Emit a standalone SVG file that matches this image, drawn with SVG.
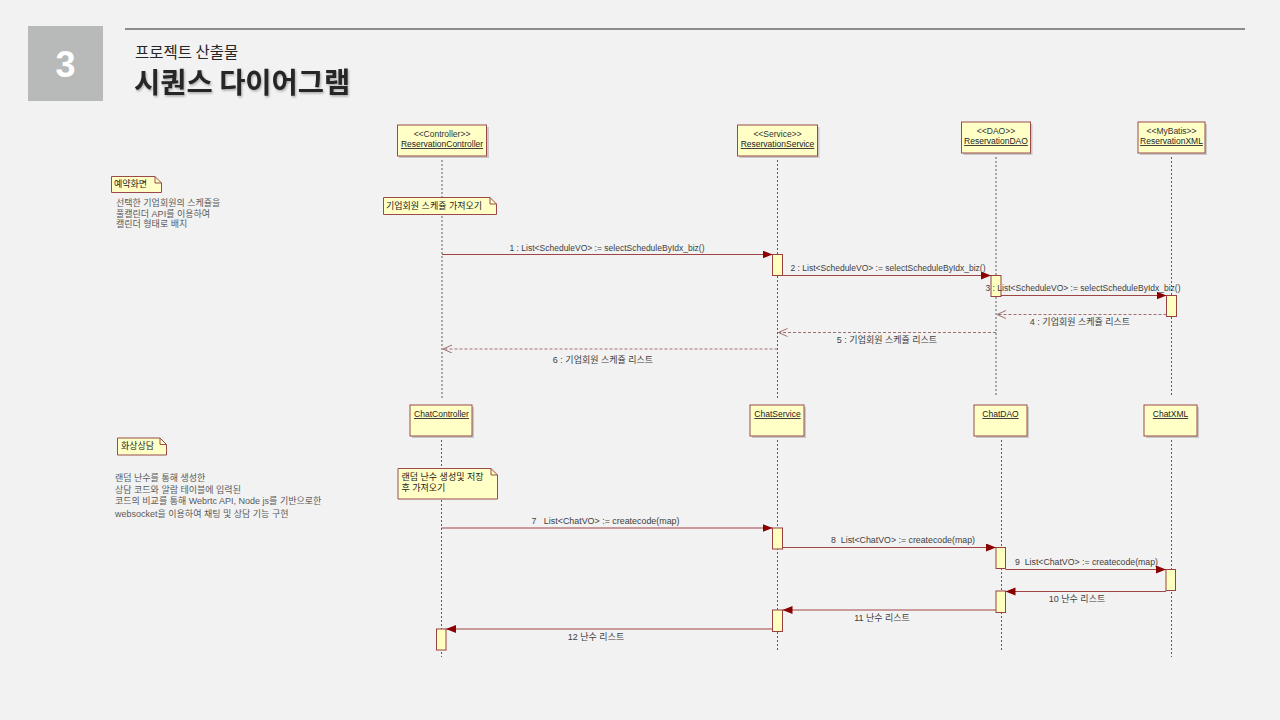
<svg xmlns="http://www.w3.org/2000/svg" width="1280" height="720" viewBox="0 0 1280 720">
<style>
  .bg{fill:#f2f2f2}
  .actor{fill:#ffffc6;stroke:#9a4a4a;stroke-width:1}
  .shadow{fill:#c9c9c9}
  .act{fill:#ffffc0;stroke:#9a4040;stroke-width:1}
  .life{stroke:#5a5a5a;stroke-width:1;stroke-dasharray:2 2;fill:none}
  .msg{stroke:#a04545;stroke-width:1;fill:none}
  .ret{stroke:#a07070;stroke-width:1;stroke-dasharray:3 2;fill:none}
  .note{fill:#ffffc6;stroke:#9a4a4a;stroke-width:1}
  .fold{fill:none;stroke:#9a4a4a;stroke-width:1}
  .t{font-family:"Liberation Sans","Noto Sans CJK KR",sans-serif;font-size:8.5px;fill:#333}
  .nt{font-family:"Liberation Sans","Noto Sans CJK KR",sans-serif;font-size:9px;fill:#222}
  .tn{font-family:"Liberation Sans","Noto Sans CJK KR",sans-serif;font-size:8.5px;fill:#222;text-decoration:underline}
  .ml{font-family:"Liberation Sans","Noto Sans CJK KR",sans-serif;font-size:8.5px;fill:#404040}
  .kl{font-family:"Liberation Sans","Noto Sans CJK KR",sans-serif;font-size:9px;fill:#404040}
  .desc{font-family:"Liberation Sans","Noto Sans CJK KR",sans-serif;font-size:9px;fill:#5a5a5a}
</style>
<defs>
  <marker id="fa" markerUnits="userSpaceOnUse" markerWidth="11" markerHeight="9" refX="10" refY="4" orient="auto">
    <path d="M0,0 L10,4 L0,8 Z" fill="#8b0000"/>
  </marker>
  <marker id="oa" markerUnits="userSpaceOnUse" markerWidth="11" markerHeight="9" refX="9.5" refY="4" orient="auto">
    <path d="M0,0 L9,4 L0,8" fill="none" stroke="#a07070" stroke-width="1"/>
  </marker>
  <filter id="ds" x="-5%" y="-20%" width="110%" height="140%">
    <feDropShadow dx="1" dy="1.5" stdDeviation="0.8" flood-color="#000" flood-opacity="0.3"/>
  </filter>
</defs>
<rect class="bg" x="0" y="0" width="1280" height="720"/>

<g id="header">
  <rect x="28" y="26" width="75" height="75" fill="#b8bab9"/>
  <text x="65.5" y="77" text-anchor="middle" font-family="Liberation Sans, Arial, sans-serif" font-weight="bold" font-size="36" fill="#ffffff">3</text>
  <line x1="125" y1="29" x2="1245" y2="29" stroke="#8c8c8c" stroke-width="2"/>
  <text x="135" y="58" font-family="'Noto Sans CJK KR', sans-serif" font-size="15.5" fill="#262626">프로젝트 산출물</text>
  <text x="134" y="93" font-family="'Noto Sans CJK KR', sans-serif" font-size="28.5" font-weight="bold" fill="#262626" filter="url(#ds)">시퀀스 다이어그램</text>
</g>

<!-- Section 1 lifelines -->
<g id="reservationController">
  <line class="life" x1="442" y1="156" x2="442" y2="398"/>
  <rect class="shadow" x="399" y="127" width="90" height="31"/>
  <rect class="actor" x="397.5" y="125" width="89" height="31"/>
  <text class="t" x="442" y="137" text-anchor="middle">&lt;&lt;Controller&gt;&gt;</text>
  <text class="tn" x="442" y="147" text-anchor="middle">ReservationController</text>
</g>
<g id="reservationService">
  <line class="life" x1="777.5" y1="156" x2="777.5" y2="398"/>
  <rect class="shadow" x="739.5" y="127" width="80" height="31"/>
  <rect class="actor" x="737.5" y="125" width="80" height="31"/>
  <text class="t" x="777.5" y="137" text-anchor="middle">&lt;&lt;Service&gt;&gt;</text>
  <text class="tn" x="777.5" y="147" text-anchor="middle">ReservationService</text>
  <rect class="act" x="772.5" y="254.5" width="10" height="21"/>
</g>
<g id="reservationDAO">
  <line class="life" x1="996" y1="153" x2="996" y2="397"/>
  <rect class="shadow" x="963.5" y="124" width="69" height="31"/>
  <rect class="actor" x="961.5" y="122" width="69" height="31"/>
  <text class="t" x="996" y="134" text-anchor="middle">&lt;&lt;DAO&gt;&gt;</text>
  <text class="tn" x="996" y="144" text-anchor="middle">ReservationDAO</text>
  <rect class="act" x="991" y="275.5" width="10" height="21"/>
</g>
<g id="reservationXML">
  <line class="life" x1="1171.5" y1="153" x2="1171.5" y2="397"/>
  <rect class="shadow" x="1140" y="124" width="67" height="31"/>
  <rect class="actor" x="1138" y="122" width="67" height="31"/>
  <text class="t" x="1171.5" y="134" text-anchor="middle">&lt;&lt;MyBatis&gt;&gt;</text>
  <text class="tn" x="1171.5" y="144" text-anchor="middle">ReservationXML</text>
  <rect class="act" x="1166.5" y="295.5" width="10" height="21"/>
</g>

<!-- Section 2 lifelines -->
<g id="chatController">
  <line class="life" x1="441.5" y1="436" x2="441.5" y2="657"/>
  <rect class="shadow" x="412" y="407" width="62" height="31"/>
  <rect class="actor" x="410" y="405" width="62" height="31"/>
  <text class="tn" x="441.5" y="417" text-anchor="middle">ChatController</text>
  <rect class="act" x="436.5" y="629" width="9.5" height="21"/>
</g>
<g id="chatService">
  <line class="life" x1="777.5" y1="436" x2="777.5" y2="652"/>
  <rect class="shadow" x="752" y="407" width="54" height="31"/>
  <rect class="actor" x="750" y="405" width="54" height="31"/>
  <text class="tn" x="777.5" y="417" text-anchor="middle">ChatService</text>
  <rect class="act" x="772.5" y="528" width="10" height="21"/>
  <rect class="act" x="772.5" y="610" width="10" height="21.5"/>
</g>
<g id="chatDAO">
  <line class="life" x1="1001.5" y1="436" x2="1001.5" y2="652"/>
  <rect class="shadow" x="976" y="407" width="53" height="31"/>
  <rect class="actor" x="974" y="405" width="53" height="31"/>
  <text class="tn" x="1000.5" y="417" text-anchor="middle">ChatDAO</text>
  <rect class="act" x="996" y="547.5" width="9.5" height="21"/>
  <rect class="act" x="996" y="591" width="9.5" height="21.5"/>
</g>
<g id="chatXML">
  <line class="life" x1="1171.5" y1="436" x2="1171.5" y2="657"/>
  <rect class="shadow" x="1146" y="407" width="53" height="31"/>
  <rect class="actor" x="1144" y="405" width="53" height="31"/>
  <text class="tn" x="1170.5" y="417" text-anchor="middle">ChatXML</text>
  <rect class="act" x="1166" y="569.5" width="9.5" height="21"/>
</g>

<!-- Notes -->
<g id="noteReservationScreen">
  <path class="note" d="M111.5,176.5 H155 L161.5,183 V192.5 H111.5 Z"/>
  <path class="fold" d="M155,176.5 V183 H161.5"/>
  <text class="nt" x="114" y="187">예약화면</text>
  <text class="desc" x="116" y="206">선택한 기업회원의 스케쥴을</text>
  <text class="desc" x="116" y="216.5">풀캘린더 API를 이용하여</text>
  <text class="desc" x="116" y="227">캘린더 형태로 배치</text>
</g>
<g id="noteGetSchedule">
  <path class="note" d="M383.5,197.5 H490 L496.5,204 V214.5 H383.5 Z"/>
  <path class="fold" d="M490,197.5 V204 H496.5"/>
  <text class="nt" x="386" y="208.5">기업회원 스케쥴 가져오기</text>
</g>
<g id="noteVideoConsult">
  <path class="note" d="M117.5,438 H160 L166.5,444.5 V455 H117.5 Z"/>
  <path class="fold" d="M160,438 V444.5 H166.5"/>
  <text class="nt" x="121" y="448.5">화상상담</text>
  <text class="desc" x="115" y="481">랜덤 난수를 통해 생성한</text>
  <text class="desc" x="115" y="492.5">상담 코드와 알람 테이블에 입력된</text>
  <text class="desc" x="115" y="504">코드의 비교를 통해 Webrtc API, Node js를 기반으로한</text>
  <text class="desc" x="115" y="516.5">websocket을 이용하여 채팅 및 상담 기능 구현</text>
</g>
<g id="noteRandomCode">
  <path class="note" d="M398,468.5 H491 L497.5,475 V499 H398 Z"/>
  <path class="fold" d="M491,468.5 V475 H497.5"/>
  <text class="nt" x="401.5" y="479.5">랜덤 난수 생성및 저장</text>
  <text class="nt" x="401.5" y="491">후 가져오기</text>
</g>

<!-- Connectors -->
<g id="connectors">
  <line class="msg" x1="442" y1="254.5" x2="772.5" y2="254.5" marker-end="url(#fa)"/>
  <text class="ml" x="607" y="250.5" text-anchor="middle" textLength="195" lengthAdjust="spacingAndGlyphs">1 : List&lt;ScheduleVO&gt; := selectScheduleByIdx_biz()</text>

  <line class="msg" x1="782.5" y1="275.5" x2="991" y2="275.5" marker-end="url(#fa)"/>
  <text class="ml" x="888" y="271" text-anchor="middle" textLength="195" lengthAdjust="spacingAndGlyphs">2 : List&lt;ScheduleVO&gt; := selectScheduleByIdx_biz()</text>

  <line class="msg" x1="1001" y1="295.5" x2="1166.5" y2="295.5" marker-end="url(#fa)"/>
  <text class="ml" x="1083" y="291" text-anchor="middle" textLength="195" lengthAdjust="spacingAndGlyphs">3 : List&lt;ScheduleVO&gt; := selectScheduleByIdx_biz()</text>

  <line class="ret" x1="1166.5" y1="314.5" x2="996.5" y2="314.5" marker-end="url(#oa)"/>
  <text class="kl" x="1080" y="324.5" text-anchor="middle">4 : 기업회원 스케쥴 리스트</text>

  <line class="ret" x1="996" y1="332.5" x2="778" y2="332.5" marker-end="url(#oa)"/>
  <text class="kl" x="887" y="343" text-anchor="middle">5 : 기업회원 스케쥴 리스트</text>

  <line class="ret" x1="777.5" y1="349" x2="442.5" y2="349" marker-end="url(#oa)"/>
  <text class="kl" x="603" y="363" text-anchor="middle">6 : 기업회원 스케쥴 리스트</text>

  <line class="msg" x1="441.5" y1="528" x2="772.5" y2="528" marker-end="url(#fa)"/>
  <text class="ml" x="605.5" y="524" text-anchor="middle" xml:space="preserve" textLength="148" lengthAdjust="spacingAndGlyphs">7   List&lt;ChatVO&gt; := createcode(map)</text>

  <line class="msg" x1="782.5" y1="547.5" x2="996" y2="547.5" marker-end="url(#fa)"/>
  <text class="ml" x="903" y="543" text-anchor="middle" xml:space="preserve" textLength="144" lengthAdjust="spacingAndGlyphs">8  List&lt;ChatVO&gt; := createcode(map)</text>

  <line class="msg" x1="1005.5" y1="569.5" x2="1166" y2="569.5" marker-end="url(#fa)"/>
  <text class="ml" x="1086.5" y="564.5" text-anchor="middle" xml:space="preserve" textLength="143" lengthAdjust="spacingAndGlyphs">9  List&lt;ChatVO&gt; := createcode(map)</text>

  <line class="msg" x1="1166" y1="591.5" x2="1005.5" y2="591.5" marker-end="url(#fa)"/>
  <text class="kl" x="1077" y="602" text-anchor="middle" font-size="8.5">10 난수 리스트</text>

  <line class="msg" x1="996" y1="610" x2="782.5" y2="610" marker-end="url(#fa)"/>
  <text class="kl" x="882" y="620.5" text-anchor="middle" font-size="8.5">11 난수 리스트</text>

  <line class="msg" x1="772.5" y1="629" x2="446" y2="629" marker-end="url(#fa)"/>
  <text class="kl" x="596" y="640" text-anchor="middle" font-size="8.5">12 난수 리스트</text>
</g>
</svg>
